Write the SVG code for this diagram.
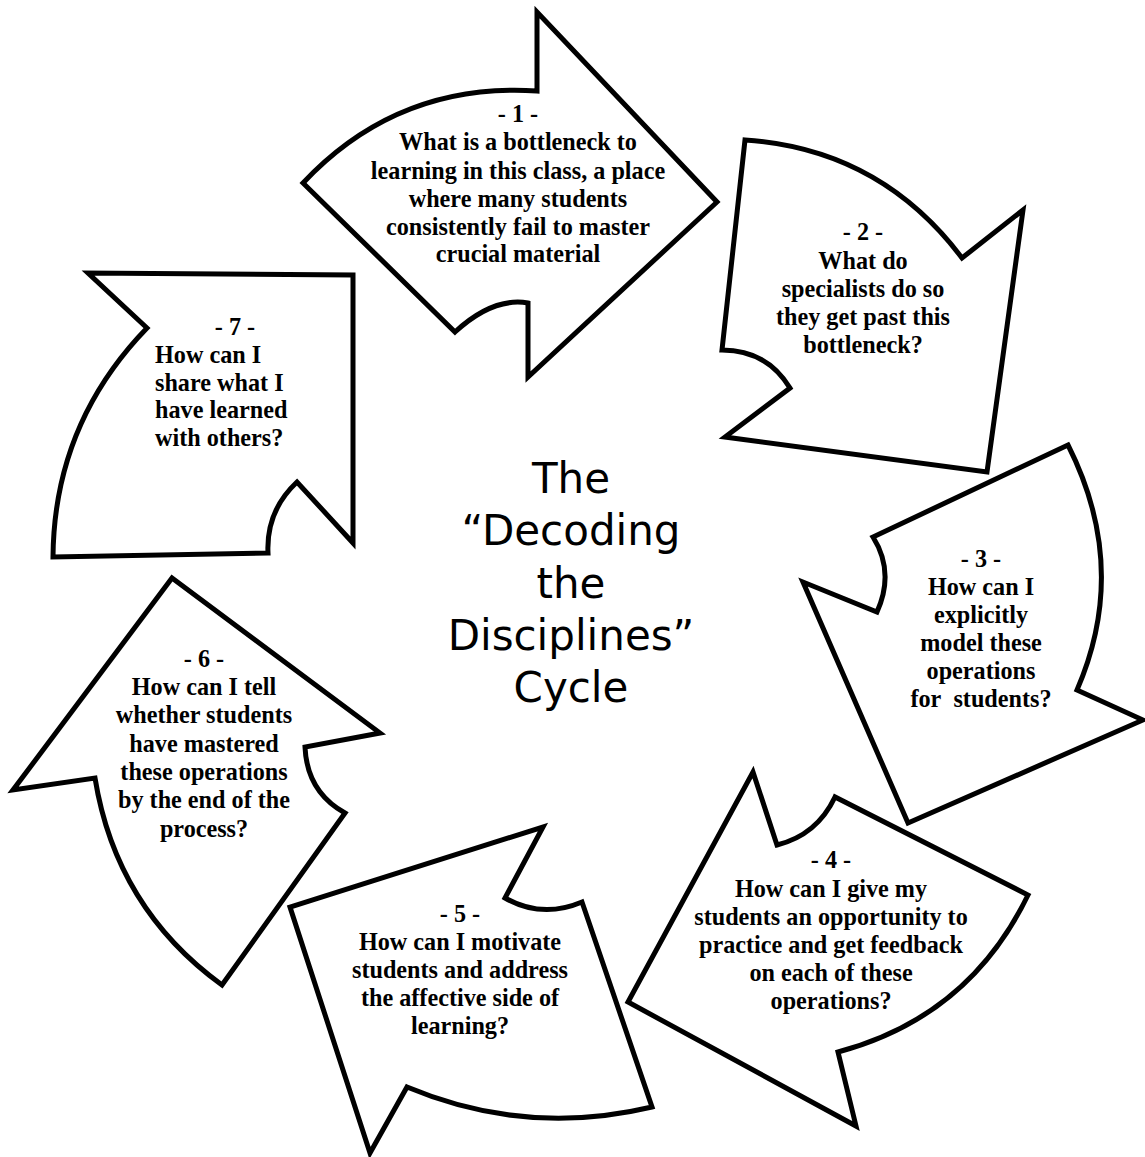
<svg xmlns="http://www.w3.org/2000/svg" width="1145" height="1157" viewBox="0 0 1145 1157">
<style>
.shape{fill:#fff;stroke:#000;stroke-width:5;stroke-linejoin:miter;stroke-miterlimit:10}
.lbl{font-family:"Liberation Serif","Times New Roman",serif;font-weight:bold;font-size:24.2px;text-anchor:middle;fill:#000}
.lbl-l{font-family:"Liberation Serif","Times New Roman",serif;font-weight:bold;font-size:24.2px;text-anchor:start;fill:#000}
.title{font-family:"DejaVu Sans",Verdana,sans-serif;font-size:42px;text-anchor:middle;fill:#000}
</style>
<rect width="1145" height="1157" fill="#fff"/>
<g id="step1">
<path class="shape" d="M303,183 Q398,82 537,91 L537,12 L717,202 L528,377 L528,303 Q493,297 455,332 Z"/>
<text class="lbl" x="518" y="122">- 1 -</text>
<text class="lbl" x="518" y="150">What is a bottleneck to</text>
<text class="lbl" x="518" y="179">learning in this class, a place</text>
<text class="lbl" x="518" y="207">where many students</text>
<text class="lbl" x="518" y="235">consistently fail to master</text>
<text class="lbl" x="518" y="262">crucial material</text>
</g>
<g id="step2">
<path class="shape" d="M745,140 Q880,149 962,258 L1023,210 L987,472 L725,437 L790,388 Q767,350 722,350 Z"/>
<text class="lbl" x="863" y="240">- 2 -</text>
<text class="lbl" x="863" y="269">What do</text>
<text class="lbl" x="863" y="297">specialists do so</text>
<text class="lbl" x="863" y="325">they get past this</text>
<text class="lbl" x="863" y="353">bottleneck?</text>
</g>
<g id="step3">
<path class="shape" d="M1068,445 Q1130,568 1077,690 L1143,720 L908,823 L803,582 L877,612 Q895,572 873,537 Z"/>
<text class="lbl" x="981" y="567">- 3 -</text>
<text class="lbl" x="981" y="595">How can I</text>
<text class="lbl" x="981" y="623">explicitly</text>
<text class="lbl" x="981" y="651">model these</text>
<text class="lbl" x="981" y="679">operations</text>
<text class="lbl" x="981" y="707">for&#160; students?</text>
</g>
<g id="step4">
<path class="shape" d="M1028,895 Q969,1017 838,1052 L856,1126 L628,1002 L753,772 L777,845 Q817,835 835,797 Z"/>
<text class="lbl" x="831" y="868">- 4 -</text>
<text class="lbl" x="831" y="897">How can I give my</text>
<text class="lbl" x="831" y="925">students an opportunity to</text>
<text class="lbl" x="831" y="953">practice and get feedback</text>
<text class="lbl" x="831" y="981">on each of these</text>
<text class="lbl" x="831" y="1009">operations?</text>
</g>
<g id="step5">
<path class="shape" d="M582,902 L652,1107 Q526,1137 407,1087 L370,1153 L290,907 L543,827 L505,898 Q542,919 582,902 Z"/>
<text class="lbl" x="460" y="922">- 5 -</text>
<text class="lbl" x="460" y="950">How can I motivate</text>
<text class="lbl" x="460" y="978">students and address</text>
<text class="lbl" x="460" y="1006">the affective side of</text>
<text class="lbl" x="460" y="1034">learning?</text>
</g>
<g id="step6">
<path class="shape" d="M345,813 L222,985 Q116,908 95,778 L13,790 L172,578 L380,733 L305,747 Q307,792 345,813 Z"/>
<text class="lbl" x="204" y="667">- 6 -</text>
<text class="lbl" x="204" y="695">How can I tell</text>
<text class="lbl" x="204" y="723">whether students</text>
<text class="lbl" x="204" y="752">have mastered</text>
<text class="lbl" x="204" y="780">these operations</text>
<text class="lbl" x="204" y="808">by the end of the</text>
<text class="lbl" x="204" y="837">process?</text>
</g>
<g id="step7">
<path class="shape" d="M268,553 L53,557 Q54,424 147,328 L88,273 L353,275 L353,543 L297,482 Q266,511 268,553 Z"/>
<text class="lbl" x="235" y="335">- 7 -</text>
<text class="lbl-l" x="155" y="363">How can I</text>
<text class="lbl-l" x="155" y="391">share what I</text>
<text class="lbl-l" x="155" y="418">have learned</text>
<text class="lbl-l" x="155" y="446">with others?</text>
</g>
<g id="title">
<text class="title" x="571" y="493">The</text>
<text class="title" x="571" y="545">“Decoding</text>
<text class="title" x="571" y="598">the</text>
<text class="title" x="571" y="650">Disciplines”</text>
<text class="title" x="571" y="702">Cycle</text>
</g>
</svg>
